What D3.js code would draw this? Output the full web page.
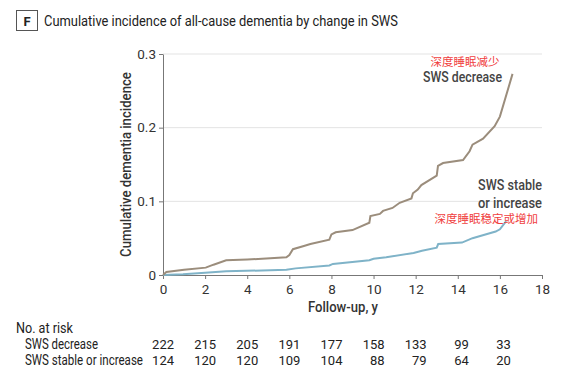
<!DOCTYPE html>
<html><head><meta charset="utf-8">
<script src="https://cdn.jsdelivr.net/npm/d3@7/dist/d3.min.js"></script>
<style>
body{margin:0;background:#fff;}
svg text{font-family:Roboto,"Liberation Sans",sans-serif;}
</style></head><body>
<svg id="c" width="575" height="378"></svg>
<script>
const title = "Cumulative incidence of all-cause dementia by change in SWS";
const panel = "F";
const xTicks = [0,2,4,6,8,10,12,14,16,18];
const yTicks = [0,0.1,0.2,0.3];
const yTickLabels = ["0","0.1","0.2","0.3"];
const decreaseT = [0,0.16,1,2.03,2.4,3,4,5.86,6,6.17,6.65,7,7.9,8,8.2,9,9.8,9.85,10.3,10.45,10.9,11.24,11.8,11.87,12.1,12.27,13,13.06,13.3,14.25,14.56,14.7,15.2,15.75,16,16.6];
const decreaseV = [0,0.004,0.007,0.010,0.014,0.020,0.021,0.024,0.027,0.035,0.039,0.042,0.048,0.055,0.058,0.061,0.071,0.080,0.083,0.087,0.091,0.098,0.104,0.111,0.116,0.122,0.135,0.148,0.152,0.156,0.168,0.177,0.185,0.202,0.215,0.273];
const stableT = [0,0.95,2,3,5.86,6.3,7.9,8.07,9.8,10,10.6,11.9,12.3,13,13.07,14.2,14.7,15.8,16,16.3];
const stableV = [0,0.001,0.003,0.005,0.007,0.009,0.013,0.015,0.020,0.022,0.024,0.030,0.033,0.037,0.042,0.044,0.050,0.059,0.062,0.073];
const riskTimes = [0,2,4,6,8,10,12,14,16];
const riskRows = ["SWS decrease","SWS stable or increase"];
const riskDecrease = [222,215,205,191,177,158,133,99,33];
const riskStable = [124,120,120,109,104,88,79,64,20];

const svg = d3.select("#c");
const x = d3.scaleLinear().domain([0,18]).range([163,542]);
const y = d3.scaleLinear().domain([0,0.3]).range([275,54]);
const axisCol = "#777";

// text helper: condensed look via horizontal scale to a target width
function txt(o){
  const t = svg.append("text").attr("font-size",o.size||14)
    .attr("fill",o.fill||"#222").attr("text-anchor",o.anchor||"start").text(o.text);
  if(o.weight) t.attr("font-weight",o.weight);
  if(o.family) t.style("font-family",o.family);
  let k = 1;
  if(o.len){ const w = t.node().getComputedTextLength(); if(w>0) k = o.len/w; }
  const rot = o.rotate ? ` rotate(${o.rotate})` : "";
  t.attr("transform",`translate(${o.x},${o.y})${rot} scale(${k},1)`);
  return t;
}

// title
svg.append("rect").attr("x",16.5).attr("y",10.5).attr("width",21).attr("height",20).attr("fill","none").attr("stroke","#555").attr("stroke-width",1);
txt({x:27,y:25.5,anchor:"middle",size:13,weight:"bold",text:panel});
txt({x:44,y:26,size:15.5,len:354,text:title});

// grid
svg.append("g").selectAll("line").data(yTicks.slice(1)).join("line")
  .attr("x1",x(0)).attr("x2",x(18)).attr("y1",d=>y(d)).attr("y2",d=>y(d))
  .attr("stroke","#e3e3e3").attr("stroke-width",1);

// axes
const gx = svg.append("g").attr("transform",`translate(0,${y(0)})`)
  .call(d3.axisBottom(x).tickValues(xTicks).tickSize(4).tickPadding(5).tickSizeOuter(0));
const gy = svg.append("g").attr("transform",`translate(${x(0)},0)`)
  .call(d3.axisLeft(y).tickValues(yTicks).tickFormat((d,i)=>yTickLabels[i]).tickSize(4).tickPadding(3).tickSizeOuter(0));
[gx,gy].forEach(g=>{
  g.selectAll("path,line").attr("stroke",axisCol);
  g.selectAll("text").attr("font-size",13.5).attr("fill","#333")
   .style("font-family","Roboto,sans-serif");
});

// axis titles
txt({x:131,y:(72+257)/2,rotate:-90,anchor:"middle",size:15,weight:500,fill:"#333",len:185,text:"Cumulative dementia incidence"});
txt({x:343,y:312,anchor:"middle",size:15,weight:500,fill:"#333",len:70,text:"Follow-up, y"});

// curves
const line = d3.line().x(d=>x(d[0])).y(d=>y(d[1]));
svg.append("path").datum(stableT.map((t,i)=>[t,stableV[i]])).attr("d",line)
  .attr("fill","none").attr("stroke","#7fb3c8").attr("stroke-width",2);
svg.append("path").datum(decreaseT.map((t,i)=>[t,decreaseV[i]])).attr("d",line)
  .attr("fill","none").attr("stroke","#9b8d7c").attr("stroke-width",2);

// annotations
const cjk = '"Noto Sans CJK SC",sans-serif';
txt({x:465,y:66,anchor:"middle",size:11.5,fill:"#f04040",family:cjk,text:"深度睡眠减少"});
txt({x:502,y:82,anchor:"end",size:15,weight:500,fill:"#444",len:79,text:"SWS decrease"});
txt({x:542,y:190,anchor:"end",size:15,weight:500,fill:"#444",len:64,text:"SWS stable"});
txt({x:542,y:208,anchor:"end",size:15,weight:500,fill:"#444",len:64,text:"or increase"});
txt({x:538,y:223,anchor:"end",size:11.5,fill:"#f04040",family:cjk,text:"深度睡眠稳定或增加"});

// risk table
txt({x:16,y:333,size:15,len:57,text:"No. at risk"});
const rowY = [349,365];
const rowLen = [73,118];
riskRows.forEach((r,i)=>{
  txt({x:25,y:rowY[i],size:14,len:rowLen[i],text:r});
});
[riskDecrease,riskStable].forEach((arr,i)=>{
  svg.append("g").selectAll("text").data(arr).join("text")
    .attr("x",(d,j)=>x(riskTimes[j])+11).attr("y",rowY[i]).attr("text-anchor","end")
    .attr("font-size",13).attr("fill","#222").text(d=>d);
});
</script></body></html>
